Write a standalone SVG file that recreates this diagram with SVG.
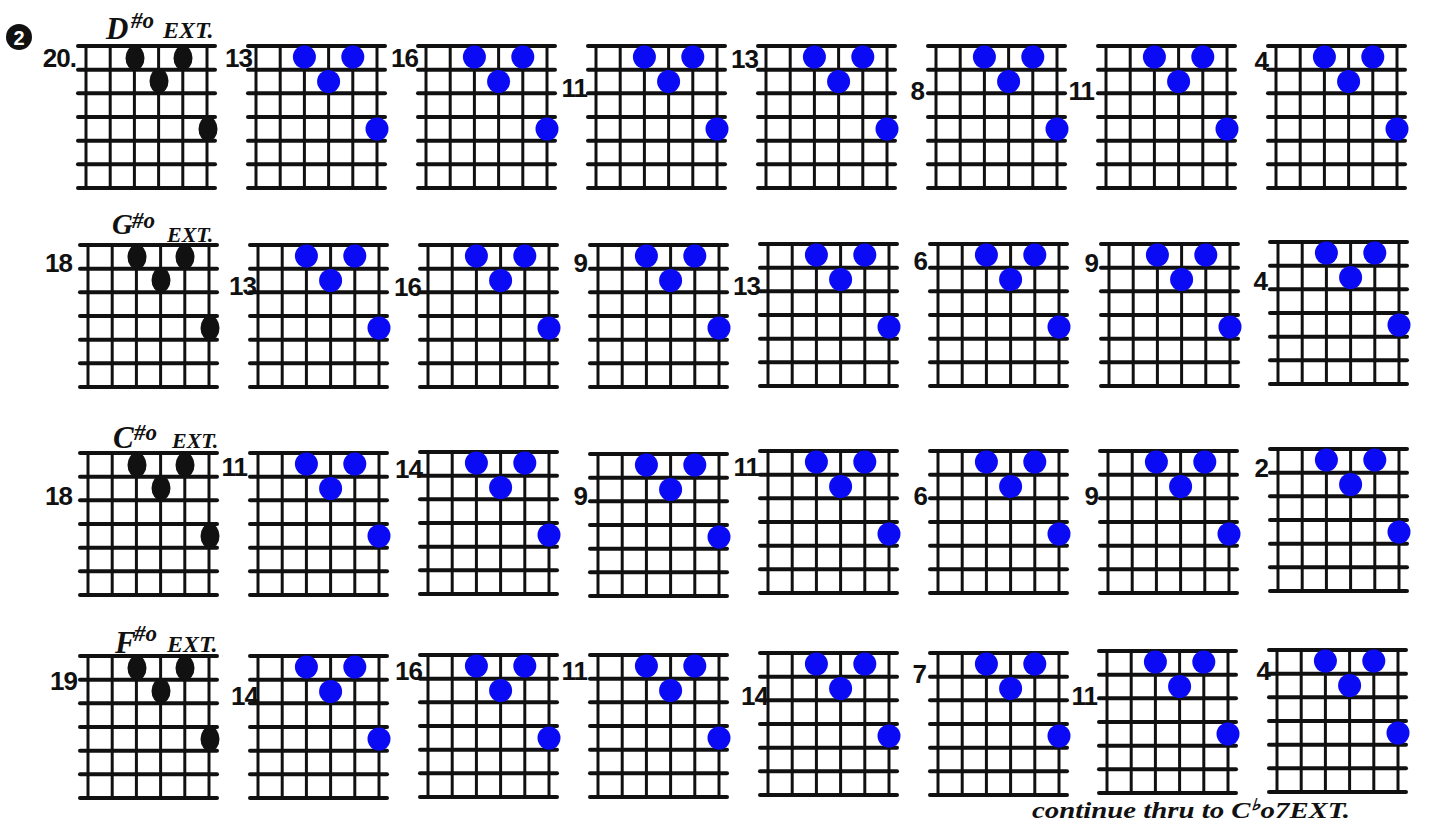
<svg xmlns="http://www.w3.org/2000/svg" xmlns:xlink="http://www.w3.org/1999/xlink" width="1431" height="825" viewBox="0 0 1431 825">
<style>
.fret{stroke:#111;stroke-width:4;stroke-linecap:round}
.str{stroke:#111;stroke-width:3}
.bd{fill:#0a0af5}
.kd{fill:#111}
.num{font-family:"Liberation Sans",sans-serif;font-weight:bold;font-size:26px;fill:#111;text-anchor:end;letter-spacing:-1px}
.chord{font-family:"Liberation Serif",serif;font-style:italic;font-weight:bold;fill:#111}
.note{font-family:"Liberation Serif",serif;font-style:italic;font-weight:bold;font-size:23px;fill:#111}
</style>
<defs>
<g id="grid">
<line class="str" x1="8" y1="0" x2="8" y2="142"/>
<line class="str" x1="32.2" y1="0" x2="32.2" y2="142"/>
<line class="str" x1="56.4" y1="0" x2="56.4" y2="142"/>
<line class="str" x1="80.6" y1="0" x2="80.6" y2="142"/>
<line class="str" x1="104.8" y1="0" x2="104.8" y2="142"/>
<line class="str" x1="129" y1="0" x2="129" y2="142"/>
<line class="fret" x1="0" y1="0" x2="137" y2="0"/>
<line class="fret" x1="0" y1="23.7" x2="137" y2="23.7"/>
<line class="fret" x1="0" y1="47.3" x2="137" y2="47.3"/>
<line class="fret" x1="0" y1="71" x2="137" y2="71"/>
<line class="fret" x1="0" y1="94.7" x2="137" y2="94.7"/>
<line class="fret" x1="0" y1="118.3" x2="137" y2="118.3"/>
<line class="fret" x1="0" y1="142" x2="137" y2="142"/>
</g>
<g id="blue">
<use xlink:href="#grid"/>
<circle class="bd" cx="56.4" cy="11" r="11.5"/>
<circle class="bd" cx="104.8" cy="11" r="11.5"/>
<circle class="bd" cx="80.6" cy="35.5" r="11.5"/>
<circle class="bd" cx="129" cy="83" r="11.5"/>
</g>
<g id="black">
<use xlink:href="#grid"/>
<ellipse class="kd" cx="57" cy="12" rx="9.5" ry="12.5"/>
<ellipse class="kd" cx="105" cy="12" rx="9.5" ry="12.5"/>
<ellipse class="kd" cx="81" cy="35" rx="9.5" ry="12.5"/>
<ellipse class="kd" cx="130" cy="83" rx="9.5" ry="12.5"/>
</g>
</defs>
<rect width="1431" height="825" fill="#fff"/>

<g id="marker2">
<ellipse cx="19" cy="37" rx="13" ry="13" fill="#111"/>
<text x="19" y="44.5" font-family="Liberation Sans,sans-serif" font-weight="bold" font-size="20" fill="#fff" text-anchor="middle">2</text>
</g>

<!-- Row 1 -->
<g id="r1c1"><use xlink:href="#black" x="78" y="46"/><text class="num" x="76" y="67">20.</text>
<text class="chord"><tspan x="106" y="39" font-size="31">D</tspan><tspan x="131" y="28" font-size="23">#o</tspan><tspan x="163" y="38" font-size="24">EXT.</tspan></text></g>
<g id="r1c2"><use xlink:href="#blue" x="248" y="46"/><text class="num" x="252" y="67">13</text></g>
<g id="r1c3"><use xlink:href="#blue" x="418" y="46"/><text class="num" x="418" y="67">16</text></g>
<g id="r1c4"><use xlink:href="#blue" x="588" y="46"/><text class="num" x="587" y="97">11</text></g>
<g id="r1c5"><use xlink:href="#blue" x="758" y="46"/><text class="num" x="758" y="68">13</text></g>
<g id="r1c6"><use xlink:href="#blue" x="928" y="46"/><text class="num" x="924" y="100">8</text></g>
<g id="r1c7"><use xlink:href="#blue" x="1098" y="46"/><text class="num" x="1094" y="100">11</text></g>
<g id="r1c8"><use xlink:href="#blue" x="1268" y="46"/><text class="num" x="1268" y="70">4</text></g>

<!-- Row 2 -->
<g id="r2c1"><use xlink:href="#black" x="80" y="245"/><text class="num" x="72" y="272">18</text>
<text class="chord"><tspan x="112" y="234" font-size="29">G</tspan><tspan x="132" y="228" font-size="23">#o</tspan><tspan x="167" y="242" font-size="22">EXT.</tspan></text></g>
<g id="r2c2"><use xlink:href="#blue" x="250" y="245"/><text class="num" x="256" y="295">13</text></g>
<g id="r2c3"><use xlink:href="#blue" x="420" y="245"/><text class="num" x="421" y="296">16</text></g>
<g id="r2c4"><use xlink:href="#blue" x="590" y="245"/><text class="num" x="587" y="272">9</text></g>
<g id="r2c5"><use xlink:href="#blue" x="760" y="244"/><text class="num" x="760" y="295">13</text></g>
<g id="r2c6"><use xlink:href="#blue" x="930" y="244"/><text class="num" x="927" y="270">6</text></g>
<g id="r2c7"><use xlink:href="#blue" x="1101" y="244"/><text class="num" x="1098" y="272">9</text></g>
<g id="r2c8"><use xlink:href="#blue" x="1270" y="242"/><text class="num" x="1267" y="290">4</text></g>

<!-- Row 3 -->
<g id="r3c1"><use xlink:href="#black" x="80" y="453"/><text class="num" x="72" y="505">18</text>
<text class="chord"><tspan x="113" y="448" font-size="31">C</tspan><tspan x="134" y="440" font-size="23">#o</tspan><tspan x="172" y="448" font-size="22">EXT.</tspan></text></g>
<g id="r3c2"><use xlink:href="#blue" x="250" y="453"/><text class="num" x="247" y="476">11</text></g>
<g id="r3c3"><use xlink:href="#blue" x="420" y="452"/><text class="num" x="422" y="478">14</text></g>
<g id="r3c4"><use xlink:href="#blue" x="590" y="454"/><text class="num" x="587" y="505">9</text></g>
<g id="r3c5"><use xlink:href="#blue" x="760" y="451"/><text class="num" x="759" y="476">11</text></g>
<g id="r3c6"><use xlink:href="#blue" x="930" y="451"/><text class="num" x="927" y="505">6</text></g>
<g id="r3c7"><use xlink:href="#blue" x="1100" y="451"/><text class="num" x="1098" y="505">9</text></g>
<g id="r3c8"><use xlink:href="#blue" x="1270" y="449"/><text class="num" x="1268" y="477">2</text></g>

<!-- Row 4 -->
<g id="r4c1"><use xlink:href="#black" x="80" y="656"/><text class="num" x="77" y="690">19</text>
<text class="chord"><tspan x="115" y="653" font-size="31">F</tspan><tspan x="134" y="641" font-size="23">#o</tspan><tspan x="167" y="652" font-size="24">EXT.</tspan></text></g>
<g id="r4c2"><use xlink:href="#blue" x="250" y="656"/><text class="num" x="258" y="705">14</text></g>
<g id="r4c3"><use xlink:href="#blue" x="420" y="655"/><text class="num" x="422" y="680">16</text></g>
<g id="r4c4"><use xlink:href="#blue" x="590" y="655"/><text class="num" x="587" y="680">11</text></g>
<g id="r4c5"><use xlink:href="#blue" x="760" y="653"/><text class="num" x="768" y="705">14</text></g>
<g id="r4c6"><use xlink:href="#blue" x="930" y="653"/><text class="num" x="926" y="683">7</text></g>
<g id="r4c7"><use xlink:href="#blue" x="1099" y="651"/><text class="num" x="1097" y="705">11</text></g>
<g id="r4c8"><use xlink:href="#blue" x="1269" y="650"/><text class="num" x="1270" y="680">4</text></g>

<g id="connectors"></g>

<text class="note" x="1032" y="818" textLength="318" lengthAdjust="spacingAndGlyphs">continue thru to C<tspan font-size="16" dy="-8">♭</tspan><tspan dy="8">o7EXT.</tspan></text>
</svg>
